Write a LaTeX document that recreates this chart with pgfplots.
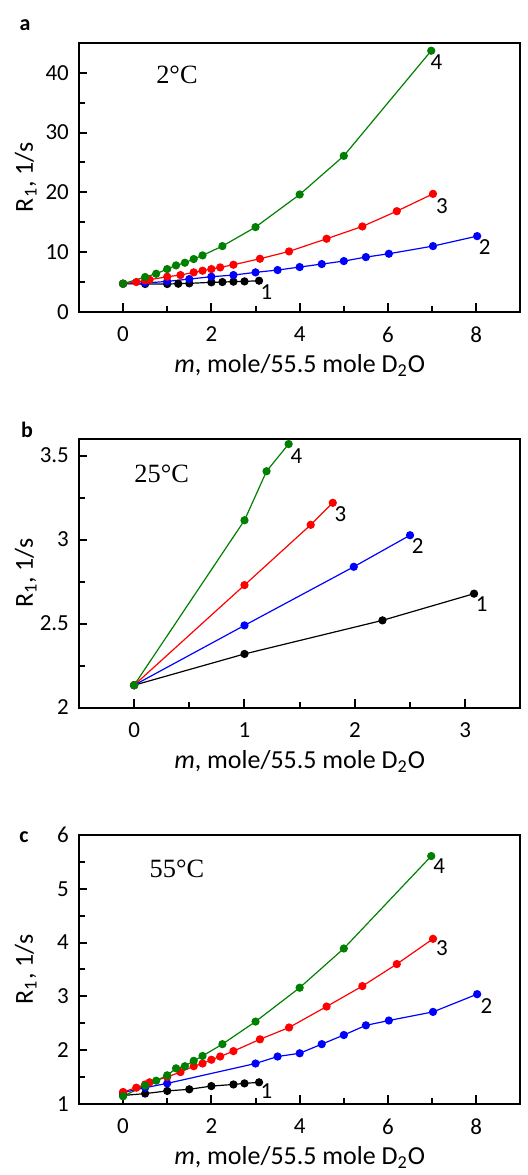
\documentclass[border=0pt]{standalone}
\usepackage{fontspec}
\setmainfont{Carlito}
\newfontfamily\timesfont{Liberation Serif}
\usepackage{pgfplots}
\pgfplotsset{compat=1.18}
\definecolor{cgreen}{RGB}{0,128,0}
\definecolor{cred}{RGB}{255,0,0}
\definecolor{cblue}{RGB}{0,0,255}
\tikzset{
  cl/.style={font=\fontsize{11.5}{13}\selectfont, inner sep=0pt},
  tl/.style={font=\timesfont\fontsize{13.2}{15}\selectfont, inner sep=0pt},
}
\pgfplotsset{
  panel/.style={
    scale only axis, width=221pt, height=134.5pt,
    axis line style={line width=1pt},
    tick align=inside, tick pos=left,
    tick label style={font=\fontsize{11.5}{13}\selectfont},
    /pgf/number format/assume math mode=true,
    xlabel={\textit{m}, mole/55.5 mole D\textsubscript{2}O},
    ylabel={R\textsubscript{1}, 1/s},
    label style={font=\fontsize{13}{14}\selectfont},
    xlabel style={at={(axis description cs:0.5,0)}, anchor=base, yshift=-30.5pt},
    ylabel style={at={(axis description cs:0,0.5)}, anchor=base, yshift=23pt},
  },
  ser/.style={color=#1, line width=0.6pt, mark=*, mark size=1.75pt, mark options={fill=#1, draw=#1}},
}
\begin{document}
\begin{tikzpicture}
\path (0,0) rectangle (264pt,587.5pt);
\node[font=\bfseries\fontsize{11}{12}\selectfont] at (12.5pt,575pt) {a};
\node[font=\bfseries\fontsize{11}{12}\selectfont] at (13.5pt,372.5pt) {b};
\node[font=\bfseries\fontsize{11}{12}\selectfont] at (12pt,168.5pt) {c};

% Panel a
\begin{axis}[panel, at={(39.5pt,431.5pt)}, anchor=south west,
  tick style={line width=1pt, black},
  xticklabel shift=4pt, yticklabel shift=1.5pt,
  xmin=-1, xmax=9, ymin=0, ymax=45,
  xtick={0,2,4,6,8}, minor xtick={1,3,5,7},
  ytick={0,10,20,30,40}, minor ytick={5,15,25,35}]
\addplot[ser=black] coordinates {(0,4.68) (0.5,4.63) (1.0,4.63) (1.25,4.68) (1.5,4.74) (2.0,4.91) (2.25,4.96) (2.5,5.02) (2.75,5.07) (3.08,5.18)};
\addplot[ser=cblue] coordinates {(0,4.68) (0.5,4.79) (1,5.07) (1.5,5.46) (2,5.85) (2.5,6.13) (3,6.58) (3.5,6.97) (4,7.47) (4.5,7.97) (5,8.47) (5.5,9.14) (6.02,9.70) (7.02,10.98) (8.02,12.65)};
\addplot[ser=cred] coordinates {(0,4.68) (0.3,4.96) (0.5,5.24) (0.6,5.35) (1.0,5.85) (1.3,6.13) (1.6,6.58) (1.8,6.86) (2.0,7.13) (2.2,7.41) (2.5,7.86) (3.1,8.86) (3.76,10.09) (4.61,12.21) (5.42,14.27) (6.2,16.83) (7.02,19.73)};
\addplot[ser=cgreen] coordinates {(0,4.68) (0.5,5.8) (0.75,6.35) (1.0,7.13) (1.2,7.75) (1.4,8.19) (1.6,8.81) (1.8,9.42) (2.25,10.98) (3.0,14.16) (4.0,19.62) (5.0,26.09) (6.98,43.7)};
\node[cl] at (axis cs:7.1,41.8) {4};
\node[cl] at (axis cs:7.22,17.6) {3};
\node[cl] at (axis cs:8.19,10.9) {2};
\node[cl] at (axis cs:3.25,3.2) {1};
\node[tl] at (axis cs:1.22,39.6) {2°C};
\end{axis}

% Panel b
\begin{axis}[panel, at={(39.5pt,233.35pt)}, anchor=south west,
  tick style={line width=1pt, black},
  xticklabel shift=4pt, yticklabel shift=1.5pt,
  xmin=-0.5, xmax=3.5, ymin=2, ymax=3.6,
  xtick={0,1,2,3}, minor xtick={0.5,1.5,2.5},
  ytick={2,2.5,3,3.5}, minor ytick={2.25,2.75,3.25}]
\addplot[ser=black] coordinates {(0,2.133) (1.0,2.319) (2.25,2.519) (3.08,2.678)};
\addplot[ser=cblue] coordinates {(0,2.133) (1.0,2.489) (1.99,2.838) (2.5,3.026)};
\addplot[ser=cred] coordinates {(0,2.133) (1.0,2.729) (1.6,3.088) (1.8,3.219)};
\addplot[ser=cgreen] coordinates {(0,2.133) (1.0,3.115) (1.2,3.407) (1.4,3.569)};
\node[cl] at (axis cs:1.47,3.496) {4};
\node[cl] at (axis cs:1.87,3.149) {3};
\node[cl] at (axis cs:2.57,2.961) {2};
\node[cl] at (axis cs:3.15,2.614) {1};
\node[tl] at (axis cs:0.25,3.393) {25°C};
\end{axis}

% Panel c
\begin{axis}[panel, at={(39.5pt,35pt)}, anchor=south west,
  tick style={line width=1pt, black},
  xticklabel shift=4pt, yticklabel shift=1.5pt,
  xmin=-1, xmax=9, ymin=1, ymax=6,
  xtick={0,2,4,6,8}, minor xtick={1,3,5,7},
  ytick={1,2,3,4,5,6}, minor ytick={1.5,2.5,3.5,4.5,5.5}]
\addplot[ser=black] coordinates {(0,1.155) (0.5,1.19) (1.0,1.24) (1.5,1.27) (2.0,1.33) (2.5,1.36) (2.75,1.38) (3.08,1.40)};
\addplot[ser=cblue] coordinates {(0,1.21) (0.5,1.30) (1.0,1.38) (3.0,1.75) (3.5,1.88) (4.0,1.94) (4.5,2.11) (5.0,2.28) (5.5,2.46) (6.02,2.55) (7.02,2.71) (8.02,3.04)};
\addplot[ser=cred] coordinates {(0,1.22) (0.3,1.30) (0.5,1.36) (0.6,1.40) (1.0,1.50) (1.3,1.59) (1.6,1.70) (1.8,1.75) (2.0,1.82) (2.2,1.88) (2.5,1.98) (3.1,2.20) (3.76,2.42) (4.61,2.81) (5.42,3.19) (6.2,3.60) (7.02,4.07)};
\addplot[ser=cgreen] coordinates {(0,1.14) (0.5,1.34) (0.75,1.43) (1.0,1.53) (1.2,1.66) (1.4,1.70) (1.6,1.80) (1.8,1.89) (2.25,2.11) (3.0,2.53) (4.0,3.16) (5.0,3.89) (6.98,5.61)};
\node[cl] at (axis cs:7.16,5.42) {4};
\node[cl] at (axis cs:7.22,3.89) {3};
\node[cl] at (axis cs:8.23,2.82) {2};
\node[cl] at (axis cs:3.25,1.23) {1};
\node[tl] at (axis cs:1.22,5.38) {55°C};
\end{axis}
\end{tikzpicture}
\end{document}
